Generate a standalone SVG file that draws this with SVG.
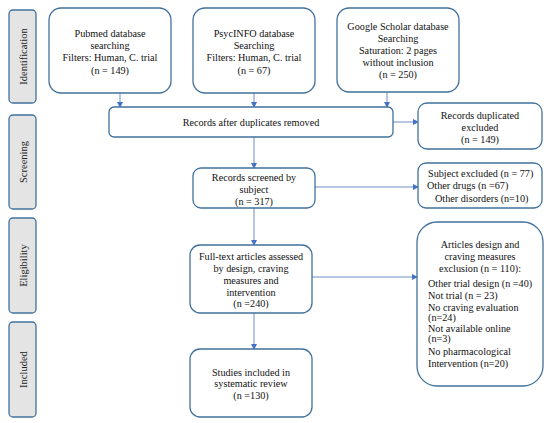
<svg xmlns="http://www.w3.org/2000/svg" width="550" height="423" viewBox="0 0 550 423">
<style>
.box{fill:#fff;stroke:#41719c;stroke-width:1.3}
.side{fill:#e4e4e4;stroke:#41719c;stroke-width:1.3}
.t{font-family:"Liberation Serif","Times New Roman",serif;font-size:10.2px;fill:#111;text-anchor:middle}
.l{text-anchor:start}
.s{font-family:"Liberation Serif","Times New Roman",serif;font-size:10.5px;fill:#222;text-anchor:middle}
.c{stroke:#6d8fc7;stroke-width:1;fill:none;marker-end:url(#ah)}
</style>
<defs>
<marker id="ah" markerWidth="6" markerHeight="6" refX="5" refY="3" orient="auto" markerUnits="userSpaceOnUse">
<path d="M0,0 L6,3 L0,6 z" fill="#4472c4"/>
</marker>
</defs>
<rect width="550" height="423" fill="#fff"/>
<g id="side-identification"><rect class="side" x="9" y="10" width="27" height="93" rx="4"/><text class="s" transform="translate(26.5,56.5) rotate(-90)">Identification</text></g>
<g id="side-screening"><rect class="side" x="9" y="115" width="27" height="94" rx="4"/><text class="s" transform="translate(26.5,162) rotate(-90)">Screening</text></g>
<g id="side-eligibility"><rect class="side" x="9" y="218" width="27" height="95" rx="4"/><text class="s" transform="translate(26.5,265.5) rotate(-90)">Eligibility</text></g>
<g id="side-included"><rect class="side" x="9" y="322" width="27" height="95" rx="4"/><text class="s" transform="translate(26.5,369.5) rotate(-90)">Included</text></g>

<g id="connectors">
<line class="c" x1="120" y1="93" x2="120" y2="107"/>
<line class="c" x1="254" y1="93" x2="254" y2="107"/>
<line class="c" x1="387" y1="92" x2="387" y2="107"/>
<line class="c" x1="393" y1="122" x2="418" y2="122"/>
<line class="c" x1="254" y1="137" x2="254" y2="168"/>
<line class="c" x1="315" y1="187" x2="418" y2="187"/>
<line class="c" x1="254" y1="208" x2="254" y2="245"/>
<line class="c" x1="312" y1="277" x2="417" y2="277"/>
<line class="c" x1="254" y1="313" x2="254" y2="349"/>
</g>

<g id="pubmed"><rect class="box" x="49" y="8" width="122" height="85" rx="12"/>
<text class="t"><tspan x="110" y="37">Pubmed database</tspan><tspan x="110" y="48.5">searching</tspan><tspan x="110" y="61">Filters: Human, C. trial</tspan><tspan x="110" y="74">(n = 149)</tspan></text></g>
<g id="psycinfo"><rect class="box" x="193" y="8" width="122" height="85" rx="12"/>
<text class="t"><tspan x="254" y="37">PsycINFO database</tspan><tspan x="254" y="48.5">Searching</tspan><tspan x="254" y="61">Filters: Human, C. trial</tspan><tspan x="254" y="74">(n = 67)</tspan></text></g>
<g id="google"><rect class="box" x="337" y="8" width="122" height="84" rx="12"/>
<text class="t"><tspan x="398" y="29.5">Google Scholar database</tspan><tspan x="398" y="41.5">Searching</tspan><tspan x="398" y="54">Saturation: 2 pages</tspan><tspan x="398" y="65.5">without inclusion</tspan><tspan x="398" y="77.5">(n = 250)</tspan></text></g>
<g id="after-duplicates"><rect class="box" x="109" y="107" width="284" height="30" rx="5"/>
<text class="t" x="251" y="125.5">Records after duplicates removed</text></g>
<g id="duplicated-excluded"><rect class="box" x="418" y="103" width="124" height="46" rx="9"/>
<text class="t"><tspan x="480" y="118.5">Records duplicated</tspan><tspan x="480" y="130.5">excluded</tspan><tspan x="480" y="143">(n = 149)</tspan></text></g>
<g id="screened"><rect class="box" x="193" y="168" width="122" height="40" rx="8"/>
<text class="t"><tspan x="254" y="180.5">Records screened by</tspan><tspan x="254" y="192.5">subject</tspan><tspan x="254" y="204.5">(n = 317)</tspan></text></g>
<g id="subject-excluded"><rect class="box" x="418" y="163" width="124" height="45" rx="8"/>
<text class="t l"><tspan x="428" y="176.5">Subject excluded (n = 77)</tspan><tspan x="427" y="188.5">Other drugs (n =67)</tspan><tspan x="435" y="201.5">Other disorders (n=10)</tspan></text></g>
<g id="fulltext"><rect class="box" x="190" y="245" width="122" height="68" rx="10"/>
<text class="t"><tspan x="251" y="259.5">Full-text articles assessed</tspan><tspan x="251" y="271.5">by design, craving</tspan><tspan x="251" y="283.5">measures and</tspan><tspan x="251" y="295.5">intervention</tspan><tspan x="251" y="307">(n =240)</tspan></text></g>
<g id="articles-exclusion"><rect class="box" x="417" y="222" width="126" height="164" rx="20"/>
<text class="t"><tspan x="480" y="247.5">Articles design and</tspan><tspan x="480" y="260">craving measures</tspan><tspan x="480" y="271.5">exclusion (n = 110):</tspan></text>
<text class="t l"><tspan x="428" y="286.5">Other trial design (n =40)</tspan><tspan x="428" y="298.5">Not trial (n = 23)</tspan><tspan x="428" y="310.5">No craving evaluation</tspan><tspan x="428" y="321">(n=24)</tspan><tspan x="428" y="332">Not available online</tspan><tspan x="428" y="342">(n=3)</tspan><tspan x="428" y="354.5">No pharmacological</tspan><tspan x="428" y="366.5">Intervention (n=20)</tspan></text></g>
<g id="included"><rect class="box" x="190" y="349" width="122" height="68" rx="10"/>
<text class="t"><tspan x="251" y="375.5">Studies included in</tspan><tspan x="251" y="387">systematic review</tspan><tspan x="251" y="398.5">(n =130)</tspan></text></g>
</svg>
